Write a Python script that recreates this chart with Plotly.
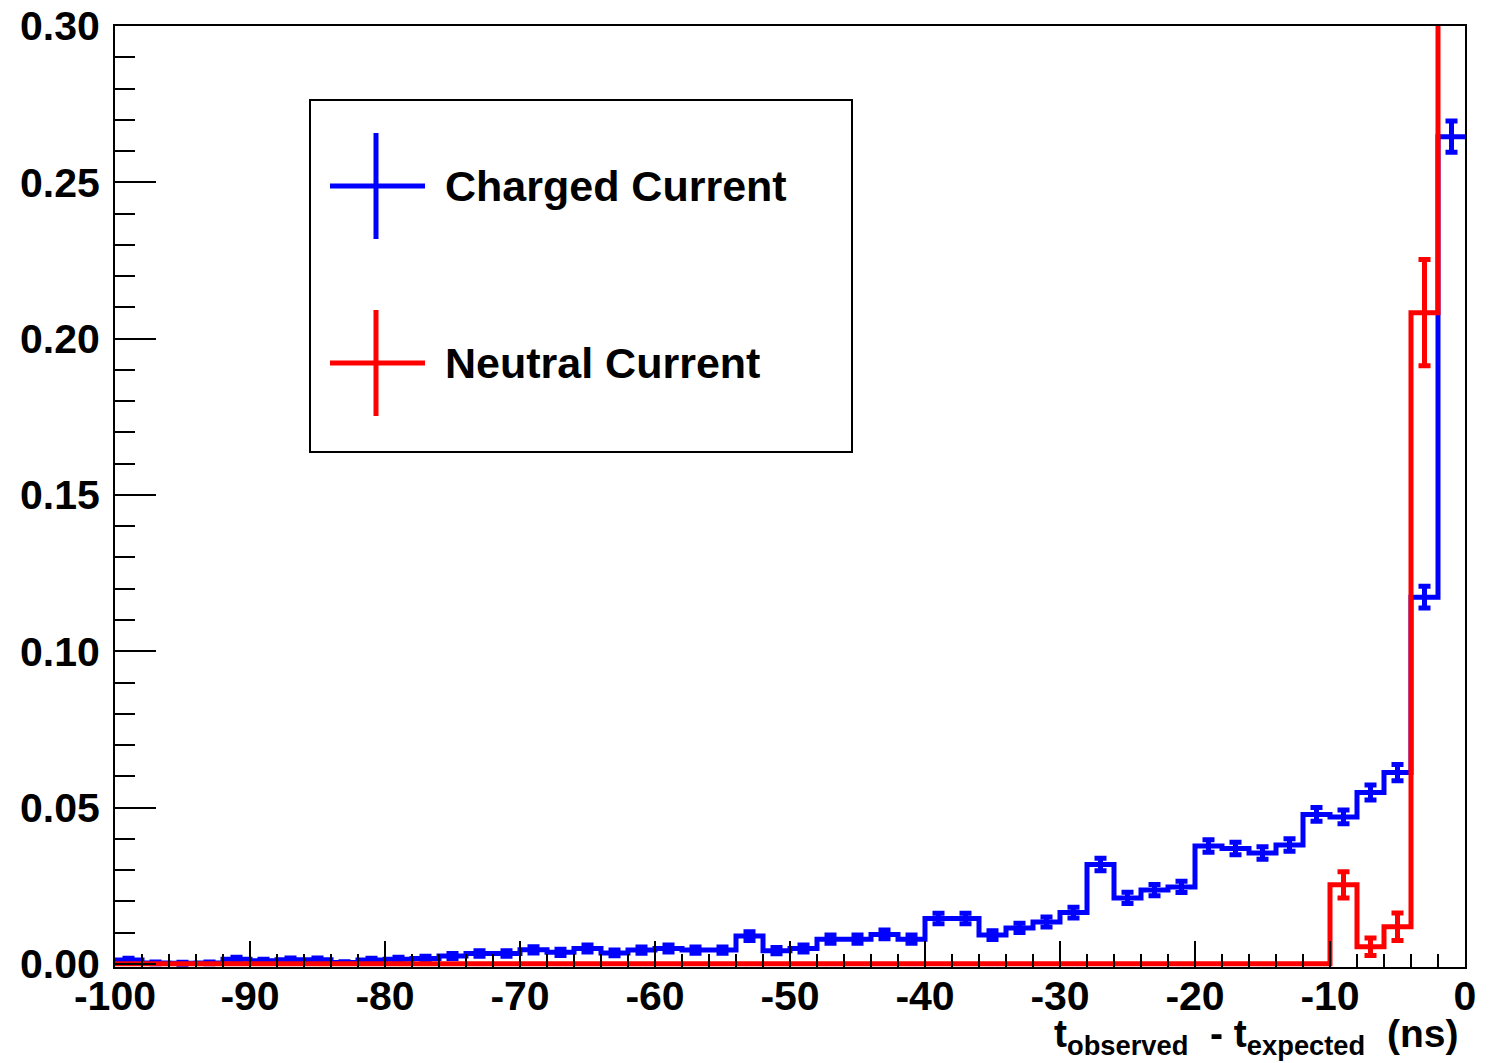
import plotly.graph_objects as go

# ---------------- data ----------------
bin_edges = [-100 + 2 * i for i in range(51)]

charged_current = [
    0.0012, 0.0003, 0.0002, 0.0003, 0.0015, 0.0010, 0.0013, 0.0013, 0.0004, 0.0012,
    0.0015, 0.0017, 0.0025, 0.0033, 0.0033, 0.0045, 0.0037, 0.0049, 0.0035, 0.0044,
    0.0049, 0.0044, 0.0044, 0.0089, 0.0042, 0.0049, 0.0079, 0.0079, 0.0094, 0.0079,
    0.0145, 0.0145, 0.0092, 0.0115, 0.0134, 0.0164, 0.0318, 0.0211, 0.0236, 0.0246,
    0.0377, 0.0369, 0.0355, 0.0380, 0.0478, 0.0470, 0.0548, 0.0612, 0.1173, 0.2646,
]
charged_err = [
    0.0006, 0.0003, 0.0003, 0.0003, 0.0006, 0.0005, 0.0006, 0.0006, 0.0003, 0.0006,
    0.0006, 0.0007, 0.0008, 0.0009, 0.0009, 0.0010, 0.0010, 0.0011, 0.0009, 0.0010,
    0.0011, 0.0010, 0.0010, 0.0014, 0.0010, 0.0011, 0.0013, 0.0013, 0.0014, 0.0013,
    0.0017, 0.0017, 0.0014, 0.0015, 0.0016, 0.0017, 0.0020, 0.0018, 0.0018, 0.0018,
    0.0020, 0.0020, 0.0020, 0.0020, 0.0022, 0.0022, 0.0024, 0.0026, 0.0035, 0.0050,
]

neutral_current = [0.0] * 45 + [0.0253, 0.0055, 0.0119, 0.2083, 0.749]
neutral_err = [0.0] * 45 + [0.0042, 0.0028, 0.0044, 0.0170, 0.0300]

x_tick_vals = [-100, -90, -80, -70, -60, -50, -40, -30, -20, -10, 0]
x_tick_text = ["-100", "-90", "-80", "-70", "-60", "-50", "-40", "-30", "-20", "-10", "0"]
y_tick_vals = [0.00, 0.05, 0.10, 0.15, 0.20, 0.25, 0.30]
y_tick_text = ["0.00", "0.05", "0.10", "0.15", "0.20", "0.25", "0.30"]

series_names = ["Charged Current", "Neutral Current"]
x_title = "t<sub>observed</sub>&nbsp;&nbsp;- t<sub>expected</sub>&nbsp;&nbsp;(ns)"

# ---------------- styling ----------------
BLUE = "#0000ff"
RED = "#ff0000"
FONT = "Liberation Sans, Arial, Helvetica, sans-serif"
W, H = 1492, 1063
ML, MR, MT, MB = 115, 27, 26, 96

centers = [(bin_edges[i] + bin_edges[i + 1]) / 2 for i in range(len(bin_edges) - 1)]

fig = go.Figure()


def add_hist(values, errors, color):
    fig.add_trace(go.Scatter(
        x=bin_edges, y=values + [values[-1]], mode="lines",
        line=dict(color=color, width=5, shape="hv"),
        hoverinfo="skip", showlegend=False,
    ))
    xs = [c for c, e in zip(centers, errors) if e > 0]
    ys = [v for v, e in zip(values, errors) if e > 0]
    es = [e for e in errors if e > 0]
    fig.add_trace(go.Scatter(
        x=xs, y=ys, mode="markers",
        marker=dict(size=1, color=color, opacity=0),
        error_y=dict(type="data", array=es, visible=True, color=color,
                     thickness=5, width=6),
        hoverinfo="skip", showlegend=False,
    ))


add_hist(charged_current, charged_err, BLUE)
add_hist(neutral_current, neutral_err, RED)

axis_common = dict(
    showline=True, linecolor="black", linewidth=2, mirror=True,
    showgrid=False, zeroline=False, ticks="inside", tickcolor="black",
    tickwidth=2, automargin=False,
    tickfont=dict(family=FONT, size=41, color="black", weight="bold"),
)

fig.update_xaxes(
    range=[-100, 0], tickmode="array", tickvals=x_tick_vals, ticktext=x_tick_text,
    ticklen=26, ticklabelstandoff=-8,
    minor=dict(dtick=2, tick0=0, ticks="inside", ticklen=13, tickwidth=2, tickcolor="black"),
    **axis_common,
)
fig.update_yaxes(
    range=[-0.001, 0.30], tickmode="array", tickvals=y_tick_vals, ticktext=y_tick_text,
    ticklen=41, ticklabelstandoff=5,
    minor=dict(dtick=0.01, tick0=0, ticks="inside", ticklen=20, tickwidth=2, tickcolor="black"),
    **axis_common,
)

PW, PH = W - ML - MR, H - MT - MB


def px(x):
    return (x - ML) / PW


def py(y):
    return (H - MB - y) / PH


shapes = [
    dict(type="rect", xref="paper", yref="paper", x0=px(310), x1=px(852), y0=py(452), y1=py(100),
         line=dict(color="black", width=2), fillcolor="white", layer="above"),
]
for color, yc in ((BLUE, 186), (RED, 363)):
    shapes.append(dict(type="line", xref="paper", yref="paper", x0=px(330), x1=px(425),
                       y0=py(yc), y1=py(yc), line=dict(color=color, width=5), layer="above"))
    shapes.append(dict(type="line", xref="paper", yref="paper", x0=px(376), x1=px(376),
                       y0=py(yc - 53), y1=py(yc + 53), line=dict(color=color, width=5), layer="above"))

annotations = [
    dict(xref="paper", yref="paper", x=px(443), y=py(186), xanchor="left", yanchor="middle",
         text=series_names[0], showarrow=False,
         font=dict(family=FONT, size=43, color="black", weight="bold")),
    dict(xref="paper", yref="paper", x=px(443), y=py(363), xanchor="left", yanchor="middle",
         text=series_names[1], showarrow=False,
         font=dict(family=FONT, size=43, color="black", weight="bold")),
    dict(xref="paper", yref="paper", x=px(1460), y=py(1063), xanchor="right", yanchor="bottom",
         text=x_title, showarrow=False,
         font=dict(family=FONT, size=39, color="black", weight="bold")),
]

fig.update_layout(
    width=W, height=H,
    margin=dict(l=ML, r=MR, t=MT, b=MB, pad=0, autoexpand=False),
    paper_bgcolor="white", plot_bgcolor="white",
    shapes=shapes, annotations=annotations, showlegend=False,
)

post = (
    "document.documentElement.style.margin='0';"
    "document.body.style.margin='0';document.body.style.padding='0';"
    "document.body.style.overflow='hidden';"
    "var g=document.getElementById('{plot_id}');"
    "g.style.position='absolute';g.style.left='0px';g.style.top='0px';"
)
fig.write_html("out.html", post_script=post, config={"displayModeBar": False})
